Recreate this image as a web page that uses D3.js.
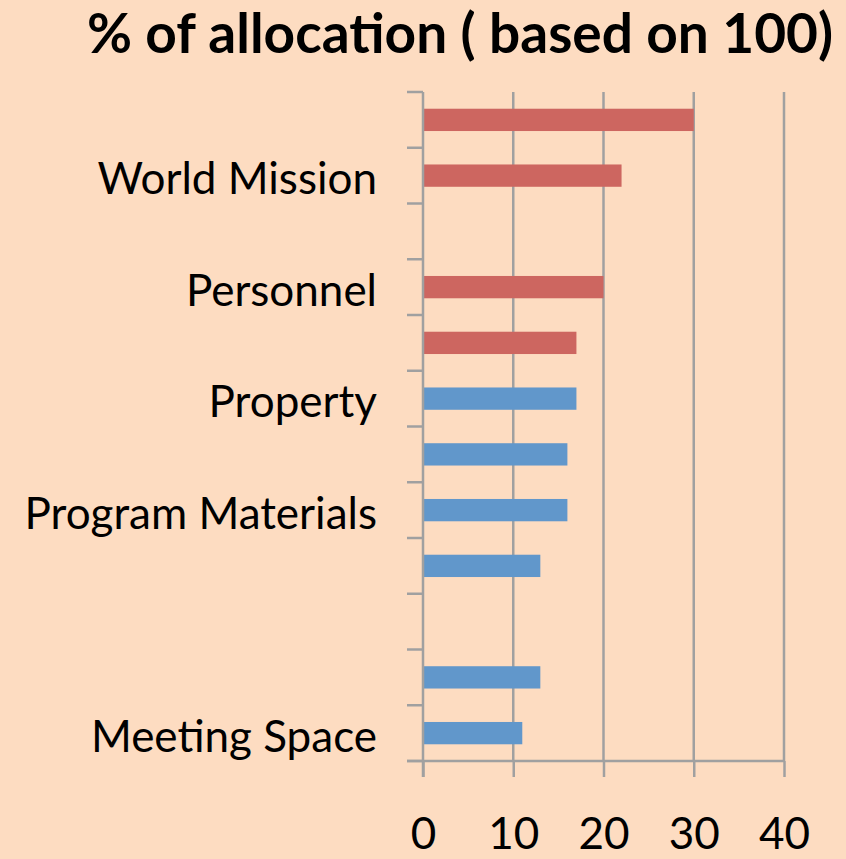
<!DOCTYPE html>
<html>
<head>
<meta charset="utf-8">
<script src="https://cdn.jsdelivr.net/npm/d3@7"></script>
<style>
  html, body { margin: 0; padding: 0; background: #fddcc1; }
  svg { display: block; font-family: Lato, "Open Sans", sans-serif; }
</style>
</head>
<body>
<div id="chart"></div>
<script>
// category labels, top to bottom ("" = label not shown / spacer row)
const categories = ["", "World Mission", "", "Personnel", "", "Property", "", "Program Materials", "", "", "", "Meeting Space"];
// % values (null = empty row)
const values = [30, 22, null, 20, 17, 17, 16, 16, 13, null, 13, 11];
// which colour group each row belongs to
const groups = ["red", "red", "red", "red", "red", "blue", "blue", "blue", "blue", "blue", "blue", "blue"];
const xTicks = [0, 10, 20, 30, 40];
const title = "% of allocation ( based on 100)";

const width = 846, height = 859;
const margin = {top: 92, right: 62, bottom: 98, left: 423};

const svg = d3.select("#chart")
  .append("svg")
    .attr("width", width)
    .attr("height", height);

svg.append("rect")
  .attr("width", width)
  .attr("height", height)
  .attr("fill", "#fddcc1");

const x = d3.scaleLinear()
  .domain([0, 40])
  .range([margin.left, width - margin.right]);

const y = d3.scaleBand()
  .domain(categories.map((c, i) => i))
  .range([margin.top, height - margin.bottom])
  .paddingInner(0.6)
  .paddingOuter(0.3);

const color = d3.scaleOrdinal()
  .domain(["red", "blue"])
  .range(["#cd6660", "#6197cb"]);

const grey = "#a0a0a0";

// vertical gridlines
svg.append("g")
  .selectAll("line")
  .data(xTicks.slice(1))
  .join("line")
    .attr("x1", d => x(d))
    .attr("x2", d => x(d))
    .attr("y1", margin.top)
    .attr("y2", height - margin.bottom)
    .attr("stroke", grey)
    .attr("stroke-width", 2.5);

// bars
svg.append("g")
  .selectAll("rect")
  .data(values.map((v, i) => ({i: i, v: v, g: groups[i]})).filter(d => d.v != null))
  .join("rect")
    .attr("x", x(0) + 1)
    .attr("y", d => y(d.i))
    .attr("width", d => x(d.v) - x(0) - 1)
    .attr("height", y.bandwidth())
    .attr("fill", d => color(d.g));

// bottom axis
const xAxis = svg.append("g")
  .attr("transform", `translate(0,${height - margin.bottom})`)
  .call(d3.axisBottom(x).tickValues(xTicks).tickSize(16).tickSizeOuter(0));
xAxis.select(".domain").attr("stroke", grey).attr("stroke-width", 2.5)
  .attr("d", `M${x(0) - 16},0H${x(40)}`);
xAxis.selectAll(".tick line").attr("stroke", grey).attr("stroke-width", 2.5);
xAxis.selectAll(".tick text")
  .attr("fill", "#000")
  .attr("font-family", "Lato, sans-serif")
  .attr("font-size", 44)
  .attr("y", 88)
  .attr("dy", 0);

// left axis: ticks on band boundaries
const step = y.step();
const bounds = d3.range(categories.length + 1).map(i => margin.top + i * step);
const yAxis = svg.append("g");
yAxis.append("line")
  .attr("x1", x(0)).attr("x2", x(0))
  .attr("y1", margin.top).attr("y2", height - margin.bottom + 16)
  .attr("stroke", grey).attr("stroke-width", 2.5);
yAxis.selectAll("line.tk")
  .data(bounds)
  .join("line")
    .attr("class", "tk")
    .attr("x1", x(0) - 16).attr("x2", x(0))
    .attr("y1", d => d).attr("y2", d => d)
    .attr("stroke", grey).attr("stroke-width", 2.5);

// category labels
svg.append("g")
  .selectAll("text")
  .data(categories.map((c, i) => ({c: c, i: i})).filter(d => d.c !== ""))
  .join("text")
    .attr("x", 377)
    .attr("y", d => y(d.i) + y.bandwidth() / 2)
    .attr("dy", "0.42em")
    .attr("text-anchor", "end")
    .attr("font-size", 44)
    .attr("fill", "#000")
    .text(d => d.c);

// title
svg.append("text")
  .attr("x", 460)
  .attr("y", 53)
  .attr("text-anchor", "middle")
  .attr("font-size", 55)
  .attr("font-weight", "bold")
  .attr("fill", "#000")
  .text(title);
</script>
</body>
</html>
